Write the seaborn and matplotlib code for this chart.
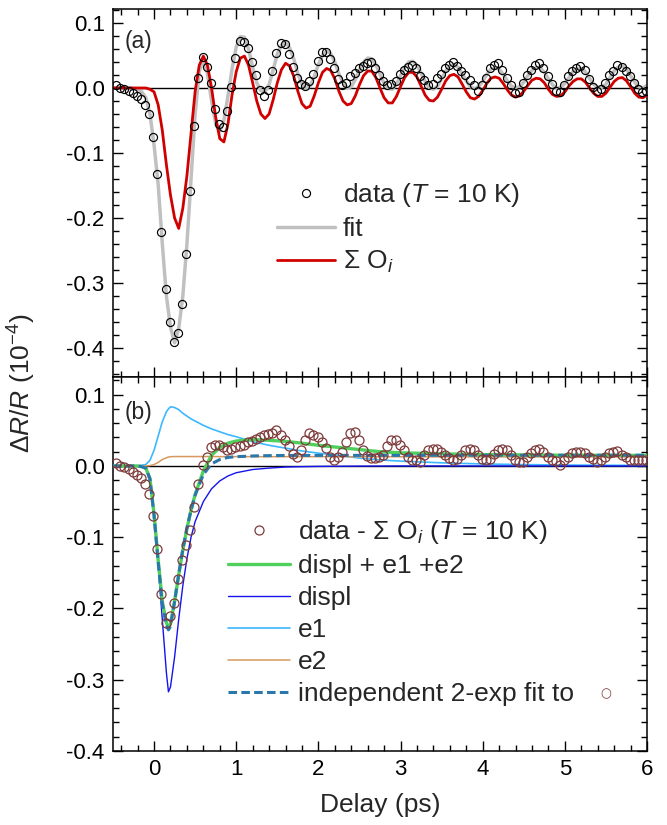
import numpy as np
import matplotlib
matplotlib.use("Agg")
import matplotlib.pyplot as plt
import seaborn as sns

# ---------------- data ----------------
# panel (a): curves on a 0.05 ps grid, data on the measured delay grid
t_curve = np.round(np.arange(-0.5, 6.0001, 0.05), 3)
t_data = np.round(np.arange(-0.46, 5.9901, 0.05), 3)

sum_osc = [0, 0, 0, 0, 0, 0, 0, 0, 0, -0.002,
           -0.006, -0.026, -0.065, -0.118, -0.165, -0.2, -0.216, -0.185, -0.135, -0.07,
           -0.005, 0.035, 0.049, 0.035, 0.0, -0.045, -0.078, -0.083, -0.055, -0.01,
           0.025, 0.046, 0.049, 0.035, 0.008, -0.02, -0.04, -0.047, -0.04, -0.018,
           0.008, 0.028, 0.038, 0.034, 0.018, -0.005, -0.024, -0.031, -0.028, -0.012,
           0.008, 0.024, 0.030, 0.027, 0.014, -0.005, -0.020, -0.026, -0.024, -0.012,
           0.005, 0.019, 0.026, 0.026, 0.016, 0.0, -0.015, -0.023, -0.023, -0.013,
           0.002, 0.016, 0.024, 0.024, 0.017, 0.003, -0.011, -0.019, -0.020, -0.014,
           -0.002, 0.011, 0.019, 0.021, 0.017, 0.006, -0.006, -0.015, -0.017, -0.013,
           -0.004, 0.007, 0.015, 0.017, 0.015, 0.007, -0.003, -0.011, -0.014, -0.012,
           -0.005, 0.004, 0.012, 0.015, 0.014, 0.008, -0.002, -0.010, -0.013, -0.012,
           -0.006, 0.003, 0.010, 0.014, 0.014, 0.009, 0.0, -0.008, -0.013, -0.013,
           -0.008, 0.001, 0.010, 0.015, 0.016, 0.011, 0.002, -0.008, -0.014, -0.015,
           -0.011]

fit = [0, 0, 0, 0, 0, -0.001, -0.002, -0.006, -0.015, -0.04,
       -0.088, -0.148, -0.239, -0.32, -0.368, -0.392, -0.37, -0.32, -0.24, -0.14,
       -0.04, 0.025, 0.045, 0.022, -0.02, -0.055, -0.067, -0.05, -0.012, 0.03,
       0.063, 0.079, 0.078, 0.06, 0.032, 0.008, -0.004, -0.006, 0.005, 0.028,
       0.052, 0.066, 0.070, 0.062, 0.045, 0.022, 0.006, -0.001, 0.003, 0.018,
       0.036, 0.05, 0.057, 0.053, 0.04, 0.022, 0.008, 0.0, 0.002, 0.013,
       0.028, 0.040, 0.046, 0.045, 0.036, 0.021, 0.007, -0.001, -0.002, 0.006,
       0.019, 0.032, 0.04, 0.041, 0.035, 0.023, 0.01, 0.0, -0.002, 0.003,
       0.014, 0.026, 0.034, 0.036, 0.032, 0.022, 0.011, 0.002, -0.001, 0.002,
       0.01, 0.021, 0.029, 0.031, 0.029, 0.021, 0.011, 0.003, 0.0, 0.002,
       0.009, 0.019, 0.027, 0.031, 0.031, 0.024, 0.014, 0.005, 0.0, 0.001,
       0.007, 0.016, 0.025, 0.030, 0.030, 0.025, 0.015, 0.006, 0.001, 0.001,
       0.006, 0.016, 0.026, 0.032, 0.034, 0.029, 0.019, 0.009, 0.002, 0.0,
       0.004]

data_a = [0.004, 0.0, -0.002, -0.004, -0.008, -0.012, -0.017, -0.026, -0.04, -0.075,
          -0.133, -0.221, -0.309, -0.36, -0.39, -0.377, -0.332, -0.256, -0.158, -0.058,
          0.015, 0.048, 0.033, 0.008, -0.032, -0.055, -0.06, -0.035, 0.001, 0.046,
          0.073, 0.07, 0.062, 0.04, 0.02, -0.003, -0.012, -0.003, 0.026, 0.054,
          0.069, 0.068, 0.052, 0.032, 0.016, 0.006, 0.003, 0.011, 0.022, 0.042,
          0.055, 0.056, 0.045, 0.03, 0.014, 0.004, 0.008, 0.018, 0.023, 0.03,
          0.034, 0.038, 0.04, 0.03, 0.02, 0.01, 0.004, 0.006, 0.01, 0.022,
          0.028, 0.032, 0.035, 0.03, 0.018, 0.012, 0.004, 0.006, 0.016, 0.022,
          0.03, 0.036, 0.04, 0.034, 0.026, 0.02, 0.012, 0.004, -0.004, 0.004,
          0.015, 0.03, 0.035, 0.038, 0.028, 0.016, 0.004, -0.008, -0.006, 0.008,
          0.02, 0.028, 0.036, 0.038, 0.03, 0.018, 0.006, -0.004, -0.006, 0.004,
          0.018, 0.026, 0.03, 0.034, 0.028, 0.014, 0.002, -0.004, -0.002, 0.008,
          0.02, 0.026, 0.036, 0.032, 0.026, 0.018, 0.008, -0.002, -0.006, -0.004]

# panel (b)
data_b = [0.004, 0.0, -0.002, -0.004, -0.008, -0.012, -0.017, -0.026, -0.04, -0.07,
          -0.117, -0.179, -0.22, -0.211, -0.192, -0.158, -0.132, -0.111, -0.09, -0.057,
          -0.025, 0.001, 0.013, 0.026, 0.03, 0.03, 0.026, 0.022, 0.024, 0.027,
          0.028, 0.029, 0.033, 0.035, 0.038, 0.04, 0.043, 0.045, 0.046, 0.05,
          0.044, 0.036, 0.028, 0.017, 0.013, 0.022, 0.036, 0.046, 0.044, 0.04,
          0.034, 0.025, 0.012, 0.008, 0.012, 0.02, 0.034, 0.046, 0.047, 0.037,
          0.022, 0.0135, 0.011, 0.011, 0.012, 0.016, 0.028, 0.036, 0.036, 0.029,
          0.022, 0.013, 0.009, 0.008, 0.006, 0.016, 0.022, 0.024, 0.024, 0.02,
          0.015, 0.011, 0.008, 0.01, 0.016, 0.022, 0.024, 0.023, 0.016, 0.01,
          0.008, 0.01, 0.017, 0.022, 0.024, 0.022, 0.015, 0.008, 0.006, 0.005,
          0.012, 0.018, 0.022, 0.024, 0.02, 0.012, 0.008, 0.007, 0.002, 0.008,
          0.013, 0.018, 0.019, 0.019, 0.018, 0.013, 0.01, 0.005, 0.008, 0.013,
          0.018, 0.02, 0.021, 0.016, 0.012, 0.009, 0.008, 0.008, 0.008, 0.008]

t_b = [-0.5, -0.4, -0.3, -0.2, -0.15, -0.1, -0.05, 0.0, 0.05, 0.1, 0.15, 0.175, 0.2,
       0.25, 0.3, 0.35, 0.4, 0.45, 0.5, 0.6, 0.7, 0.8, 0.9, 1.0, 1.2, 1.4, 1.6, 1.8,
       2.0, 2.25, 2.5, 2.75, 3.0, 3.5, 4.0, 4.5, 5.0, 5.5, 6.0]

displ = [0, 0, 0, 0, -0.001, -0.004, -0.022, -0.07, -0.14, -0.215, -0.29, -0.317, -0.31,
         -0.268, -0.215, -0.168, -0.13, -0.1, -0.078, -0.05, -0.032, -0.021, -0.014, -0.0095,
         -0.005, -0.003, -0.0015, -0.001, -0.0006, -0.0004, -0.0002, -0.0001, 0, 0, 0, 0, 0, 0, 0]

e1 = [0, 0, 0, 0, 0.001, 0.002, 0.008, 0.022, 0.042, 0.062, 0.076, 0.080, 0.083,
      0.082, 0.079, 0.074, 0.07, 0.066, 0.063, 0.057, 0.052, 0.048, 0.044, 0.041,
      0.034, 0.029, 0.025, 0.021, 0.018, 0.015, 0.011, 0.0085, 0.0068, 0.0044, 0.0028,
      0.0019, 0.0013, 0.001, 0.0008]

e2 = [0, 0, 0, 0, 0, 0, 0.0005, 0.002, 0.005, 0.009, 0.0115, 0.0125, 0.013,
      0.0132, 0.0132, 0.0132, 0.0132, 0.0132, 0.0132, 0.0132, 0.0132, 0.0131, 0.0131, 0.0131,
      0.0131, 0.013, 0.013, 0.013, 0.013, 0.013, 0.0129, 0.0129, 0.0129, 0.0128, 0.0128,
      0.0127, 0.0127, 0.0126, 0.0126]

total = [0, 0, 0, 0, -0.001, -0.003, -0.018, -0.068, -0.132, -0.19, -0.22, -0.2265, -0.222,
         -0.19, -0.153, -0.118, -0.088, -0.062, -0.04, -0.007, 0.015, 0.026, 0.032, 0.035,
         0.037, 0.036, 0.0345, 0.032, 0.029, 0.026, 0.023, 0.020, 0.0185, 0.017, 0.016,
         0.0155, 0.015, 0.015, 0.0148]

indep = [0, 0, 0, 0, -0.001, -0.003, -0.018, -0.07, -0.135, -0.193, -0.224, -0.23, -0.225,
         -0.19, -0.152, -0.117, -0.087, -0.062, -0.041, -0.012, 0.003, 0.009, 0.012, 0.013,
         0.014, 0.0145, 0.0147, 0.0148, 0.0148, 0.0148, 0.0149, 0.0149, 0.0149, 0.015, 0.015,
         0.015, 0.015, 0.015, 0.015]

# ---------------- style ----------------
sns.set_theme(style="white")
plt.rcParams["font.family"] = ["Liberation Sans", "DejaVu Sans"]
plt.rcParams["mathtext.fontset"] = "custom"
plt.rcParams["mathtext.rm"] = "Liberation Sans"
plt.rcParams["mathtext.it"] = "Liberation Sans:italic"
plt.rcParams["axes.unicode_minus"] = False
plt.rcParams["axes.edgecolor"] = "black"
plt.rcParams["axes.linewidth"] = 1.1

GRAY = "#c0c0c0"
RED = "#d00000"
BROWN = "#7d3a3a"
GREEN = "#4fd05c"
BLUE = "#1414ee"
LBLUE = "#3db8ff"
ORANGE = "#d8995e"
DASH = "#2a78ab"

fig = plt.figure(figsize=(6.67, 8.25), dpi=100)
ax1 = fig.add_axes([0.1694, 0.5430, 0.8006, 0.4461])
ax2 = fig.add_axes([0.1694, 0.0897, 0.8006, 0.4533])


def open_markers(line, edge, size, mew=0.9):
    line.set_marker("o")
    line.set_linestyle("none")
    line.set_markersize(size)
    line.set_markerfacecolor("none")
    line.set_markeredgecolor(edge)
    line.set_markeredgewidth(mew)


# ---- panel (a)
ax1.axhline(0, color="black", lw=1.0, zorder=1)
sns.lineplot(x=t_curve, y=fit, ax=ax1, color=GRAY, lw=2.5, estimator=None, sort=False,
             label="fit", zorder=2)
sns.lineplot(x=t_curve, y=sum_osc, ax=ax1, color=RED, lw=2.0, estimator=None, sort=False,
             label="Σ O$_i$", zorder=3)
sns.lineplot(x=t_data, y=data_a, ax=ax1, color="black", marker="o", linestyle="",
             estimator=None, sort=False, label="data ($T$ = 10 K)", zorder=4)
open_markers(ax1.lines[-1], "black", 5.8, 0.85)
h, l = ax1.get_legend_handles_labels()
order = [2, 0, 1]
leg1 = ax1.legend([h[i] for i in order], [l[i] for i in order], loc="upper left",
                  bbox_to_anchor=(0.307, 0.532), frameon=False, fontsize=19,
                  handlelength=2.2, handletextpad=0.3, labelspacing=0.3,
                  borderpad=0, borderaxespad=0)
open_markers(leg1.legend_handles[0], "black", 5.8, 0.85)

# ---- panel (b)
ax2.axhline(0, color="black", lw=1.0, zorder=1)
sns.lineplot(x=t_b, y=e1, ax=ax2, color=LBLUE, lw=1.2, estimator=None, sort=False,
             label="e1", zorder=2)
sns.lineplot(x=t_b, y=e2, ax=ax2, color=ORANGE, lw=1.1, estimator=None, sort=False,
             label="e2", zorder=2)
sns.lineplot(x=t_b, y=displ, ax=ax2, color=BLUE, lw=1.0, estimator=None, sort=False,
             label="displ", zorder=2)
sns.lineplot(x=t_b, y=total, ax=ax2, color=GREEN, lw=2.4, estimator=None, sort=False,
             label="displ + e1 +e2", zorder=3)
sns.lineplot(x=t_b, y=indep, ax=ax2, color=DASH, lw=2.2, estimator=None, sort=False,
             label="independent 2-exp fit to", zorder=4)
ax2.lines[-1].set_dashes([2.8, 1.4])
sns.lineplot(x=t_data, y=data_b, ax=ax2, color=BROWN, marker="o", linestyle="",
             estimator=None, sort=False, label="data - Σ O$_i$ ($T$ = 10 K)", zorder=5)
open_markers(ax2.lines[-1], BROWN, 6.5, 0.9)
h, l = ax2.get_legend_handles_labels()
order = [5, 3, 2, 0, 1, 4]
leg2 = ax2.legend([h[i] for i in order], [l[i] for i in order], loc="upper left",
                  bbox_to_anchor=(0.215, 0.622), frameon=False, fontsize=19,
                  handlelength=2.35, handletextpad=0.3, labelspacing=0.3,
                  borderpad=0, borderaxespad=0)
leg2.set_zorder(5)
open_markers(leg2.legend_handles[0], BROWN, 6.5, 0.9)
leg2.legend_handles[-1].set_dashes([2.8, 1.4])
ax2.annotate("○", xy=(1, 0.5), xycoords=leg2.get_texts()[-1], xytext=(23, 0),
             textcoords="offset points", va="center", ha="center", color=BROWN,
             fontsize=9, family="DejaVu Sans", zorder=10)

# ---- axes formatting
for ax in (ax1, ax2):
    ax.set_xlim(-0.5, 6.0)
    ax.xaxis.set_major_locator(matplotlib.ticker.MultipleLocator(1))
    ax.xaxis.set_minor_locator(matplotlib.ticker.MultipleLocator(0.2))
    ax.yaxis.set_major_locator(matplotlib.ticker.MultipleLocator(0.1))
    ax.yaxis.set_minor_locator(matplotlib.ticker.MultipleLocator(0.02))
    ax.yaxis.set_major_formatter(matplotlib.ticker.FormatStrFormatter("%.1f"))
    ax.tick_params(which="both", direction="in", top=True, right=True,
                   bottom=True, left=True, width=1.0, colors="black",
                   labelsize=16, pad=6)
    ax.tick_params(which="major", length=7)
    ax.tick_params(which="minor", length=4)
    ax.set_xlabel("")
    ax.set_ylabel("")
    for s in ax.spines.values():
        s.set_color("black")
        s.set_linewidth(1.1)

ax1.set_ylim(-0.4446, 0.1215)
ax2.set_ylim(-0.4, 0.1248)
ax1.tick_params(labelbottom=False)
ax2.xaxis.set_major_formatter(matplotlib.ticker.FormatStrFormatter("%d"))

ax1.text(0.022, 0.913, "(a)", transform=ax1.transAxes, fontsize=16.5, va="center")
ax2.text(0.022, 0.906, "(b)", transform=ax2.transAxes, fontsize=16.5, va="center")

ax2.set_xlabel("Delay (ps)", fontsize=19, labelpad=9)
fig.text(0.033, 0.535, "Δ$\\mathit{R}$/$\\mathit{R}$ (10$^{-4}$)", rotation=90,
         fontsize=19, va="center", ha="center")

fig.savefig("out.png", dpi=100)
